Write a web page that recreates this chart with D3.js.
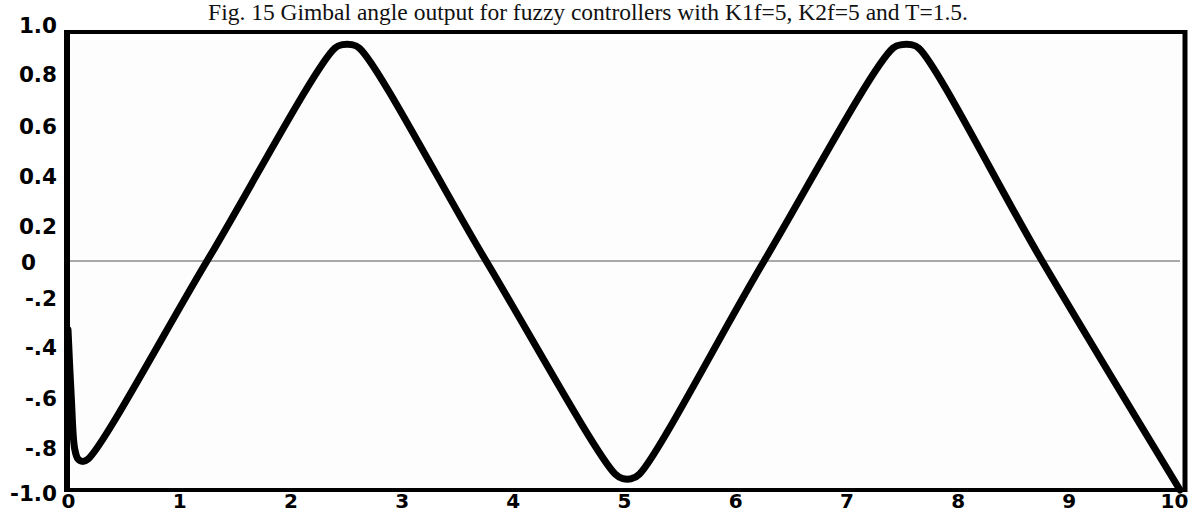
<!DOCTYPE html>
<html>
<head>
<meta charset="utf-8">
<script src="https://cdn.jsdelivr.net/npm/d3@7"></script>
<style>
  html, body { margin: 0; padding: 0; background: #fff; }
  svg { display: block; }
</style>
</head>
<body>
<svg id="chart" width="1192" height="513"></svg>
<script>
// Gimbal angle response (time in s, angle)
const timeValues = [0.00, 0.03, 0.06, 0.09, 0.13, 0.18, 1.25, 2.40, 2.47, 2.55, 2.62, 3.76, 4.92, 4.99, 5.07, 5.14, 6.26, 7.42, 7.50, 7.58, 7.65, 8.76, 10.0];
const angleValues = [-0.30, -0.60, -0.82, -0.865, -0.875, -0.865, 0.0, 0.93, 0.945, 0.945, 0.93, 0.0, -0.93, -0.95, -0.95, -0.93, 0.0, 0.93, 0.945, 0.945, 0.93, 0.0, -1.0];

const xTickValues = [0, 1, 2, 3, 4, 5, 6, 7, 8, 9, 10];
const yTickValues = [1.0, 0.8, 0.6, 0.4, 0.2, 0, -0.2, -0.4, -0.6, -0.8, -1.0];
const yTickLabels = ["1.0", "0.8", "0.6", "0.4", "0.2", "0", "-.2", "-.4", "-.6", "-.8", "-1.0"];

const titleText = "Fig. 15 Gimbal angle output for fuzzy controllers with K1f=5, K2f=5 and T=1.5.";

const svg = d3.select("#chart");
const plotLeft = 68, plotRight = 1180, plotTop = 32, plotBottom = 490;

const x = d3.scaleLinear().domain([0, 10]).range([plotLeft, plotRight]);
const y = d3.scaleLinear().domain([-1, 1]).range([plotBottom, plotTop]);

// Title along the top edge
svg.append("text")
  .attr("x", 588)
  .attr("y", 20)
  .attr("text-anchor", "middle")
  .attr("font-family", "'Liberation Serif', 'Times New Roman', serif")
  .attr("font-size", 23.5)
  .attr("fill", "#111")
  .text(titleText);

// Plot area
svg.append("rect")
  .attr("x", plotLeft).attr("y", plotTop)
  .attr("width", plotRight - plotLeft).attr("height", plotBottom - plotTop)
  .attr("fill", "#fdfdfd");

// Zero reference line
svg.append("line")
  .attr("x1", plotLeft).attr("x2", plotRight)
  .attr("y1", y(0)).attr("y2", y(0))
  .attr("stroke", "#555").attr("stroke-width", 1);

// Response curve
const pts = timeValues.map((t, i) => [t, angleValues[i]]);
const line = d3.line()
  .x(d => x(d[0]))
  .y(d => y(d[1]))
  .curve(d3.curveCatmullRom.alpha(0.5));

svg.append("path")
  .datum(pts)
  .attr("d", line)
  .attr("fill", "none")
  .attr("stroke", "#000")
  .attr("stroke-width", 7)
  .attr("stroke-linejoin", "round")
  .attr("stroke-linecap", "round");

// Frame
svg.append("line").attr("x1", plotLeft - 3).attr("x2", plotRight + 6).attr("y1", plotTop).attr("y2", plotTop)
  .attr("stroke", "#000").attr("stroke-width", 4);
svg.append("line").attr("x1", plotLeft - 3).attr("x2", plotRight + 6).attr("y1", plotBottom).attr("y2", plotBottom)
  .attr("stroke", "#000").attr("stroke-width", 4);
svg.append("line").attr("x1", plotLeft - 1).attr("x2", plotLeft - 1).attr("y1", plotTop - 2).attr("y2", plotBottom + 2)
  .attr("stroke", "#000").attr("stroke-width", 6);
svg.append("line").attr("x1", plotRight + 5).attr("x2", plotRight + 5).attr("y1", plotTop - 2).attr("y2", plotBottom + 2)
  .attr("stroke", "#000").attr("stroke-width", 5);

// Axes
const labelFont = "'DejaVu Sans', Verdana, sans-serif";
// small vertical nudges of the printed y labels, in px
const yLabelNudge = [-6, -3, 3, 7, 11, 2, -8, -5, 0, 4, 4];

const yAxis = d3.axisLeft(y)
  .tickValues(yTickValues)
  .tickSize(0)
  .tickPadding(10)
  .tickFormat((d, i) => yTickLabels[i]);

const gy = svg.append("g")
  .attr("transform", `translate(${plotLeft - 1},0)`)
  .call(yAxis);
gy.select(".domain").remove();
gy.selectAll(".tick").each(function (d, i) {
  d3.select(this).select("text")
    .attr("font-family", labelFont)
    .attr("font-size", 21.5)
    .attr("font-weight", "bold")
    .attr("fill", "#000")
    .attr("dx", d === 0 ? -21 : 0)
    .attr("y", yLabelNudge[i]);
});

const xAxis = d3.axisBottom(x)
  .tickValues(xTickValues)
  .tickSize(0)
  .tickPadding(4)
  .tickFormat(d3.format("d"));

const gx = svg.append("g")
  .attr("transform", `translate(0,${plotBottom})`)
  .call(xAxis);
gx.select(".domain").remove();
gx.selectAll("text")
  .attr("font-family", labelFont)
  .attr("font-size", 20)
  .attr("font-weight", "bold")
  .attr("fill", "#000")
  .attr("dx", d => d === 10 ? -6 : 0);
</script>
</body>
</html>
